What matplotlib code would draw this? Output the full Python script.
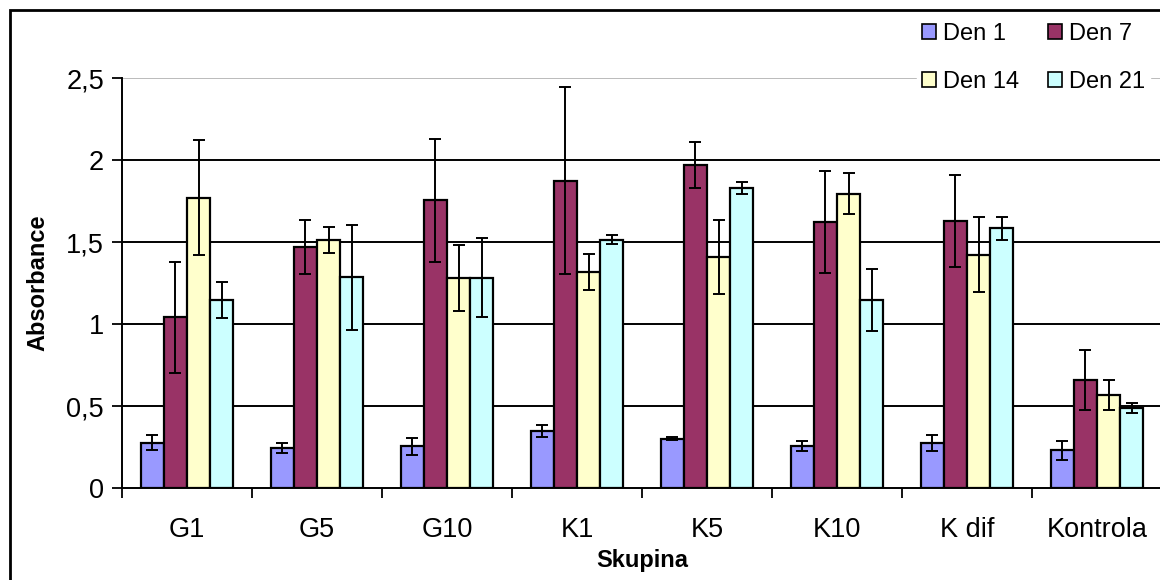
import matplotlib
matplotlib.use("Agg")
import matplotlib.pyplot as plt
import numpy as np
from matplotlib.patches import Rectangle
from matplotlib.ticker import FuncFormatter

categories = ["G1", "G5", "G10", "K1", "K5", "K10", "K dif", "Kontrola"]
series_names = ["Den 1", "Den 7", "Den 14", "Den 21"]
den1 = [0.276, 0.242, 0.254, 0.348, 0.301, 0.254, 0.276, 0.230]
den7 = [1.04, 1.47, 1.756, 1.874, 1.967, 1.62, 1.63, 0.659]
den14 = [1.77, 1.514, 1.282, 1.319, 1.41, 1.795, 1.423, 0.567]
den21 = [1.146, 1.285, 1.282, 1.514, 1.829, 1.146, 1.585, 0.486]
err1 = [0.046, 0.03, 0.05, 0.035, 0.01, 0.03, 0.05, 0.058]
err7 = [0.34, 0.167, 0.375, 0.57, 0.14, 0.31, 0.28, 0.185]
err14 = [0.35, 0.08, 0.2, 0.11, 0.225, 0.125, 0.23, 0.093]
err21 = [0.11, 0.32, 0.24, 0.028, 0.035, 0.19, 0.07, 0.03]
colors = ["#9999FF", "#993366", "#FFFFCC", "#CCFFFF"]
yticks = [0, 0.5, 1, 1.5, 2, 2.5]

plt.rcParams['font.family'] = ['Liberation Sans', 'DejaVu Sans']

fig = plt.figure(figsize=(11.6, 5.8), dpi=100)
W, H = 1160, 580
left, right, top, bottom = 122, 1162, 78, 488
ax = fig.add_axes([left / W, 1 - bottom / H, (right - left) / W, (bottom - top) / H])

values = [den1, den7, den14, den21]
errs = [err1, err7, err14, err21]
x = np.arange(len(categories))
bw = 0.177
handles = []
for i, (v, e, c, n) in enumerate(zip(values, errs, colors, series_names)):
    pos = x + (i - 1.5) * bw
    b = ax.bar(pos, v, width=bw, color=c, edgecolor="black", linewidth=1.6, label=n, zorder=3)
    handles.append(b)
    ax.errorbar(pos, v, yerr=e, fmt="none", ecolor="black", elinewidth=1.4,
                capsize=4.5, capthick=1.4, zorder=4)

ax.set_xlim(-0.5, len(categories) - 0.5)
ax.set_ylim(0, 2.5)
for yv in yticks[1:-1]:
    ax.axhline(yv, color="black", lw=1.4, zorder=1)
ax.axhline(2.5, color="#bbbbbb", lw=1.4, zorder=1)

ax.set_yticks(yticks)
ax.yaxis.set_major_formatter(FuncFormatter(lambda v, p: ("%g" % v).replace(".", ",")))
ax.set_xticks(x)
ax.set_xticklabels(categories)
ax.set_xticks(np.arange(-0.5, len(categories) + 0.5, 1), minor=True)
ax.tick_params(axis="x", which="major", length=0, labelsize=19.5, pad=21)
ax.tick_params(axis="x", which="minor", length=7, width=1.3, direction="out")
ax.tick_params(axis="y", length=7, width=1.3, direction="out", labelsize=19.5, pad=6)

for s in ["top", "right"]:
    ax.spines[s].set_visible(False)
ax.spines["left"].set_linewidth(1.4)
ax.spines["bottom"].set_linewidth(1.4)

ax.set_ylabel("Absorbance", fontsize=17, fontweight="bold", labelpad=12)
ax.set_xlabel("Skupina", fontsize=17, fontweight="bold", labelpad=4)

order = [0, 2, 1, 3]
leg = ax.legend([handles[k] for k in order], [series_names[k] for k in order],
                loc="upper right", bbox_to_anchor=(1150 / W, 1 - 18 / H),
                bbox_transform=fig.transFigure, ncol=2, fontsize=17,
                frameon=True, fancybox=False, edgecolor="white", framealpha=1,
                handlelength=0.6, handleheight=0.6, handletextpad=0.3,
                columnspacing=1.2, labelspacing=1.1, borderpad=0.2, borderaxespad=0)
for h in leg.legend_handles:
    h.set_linewidth(1.2)

fig.patches.append(Rectangle((10 / W, -0.1), 1.2, 1 - 10 / H + 0.1, transform=fig.transFigure,
                             fill=False, edgecolor="black", linewidth=2, zorder=0))

fig.savefig("out.png", dpi=100)
